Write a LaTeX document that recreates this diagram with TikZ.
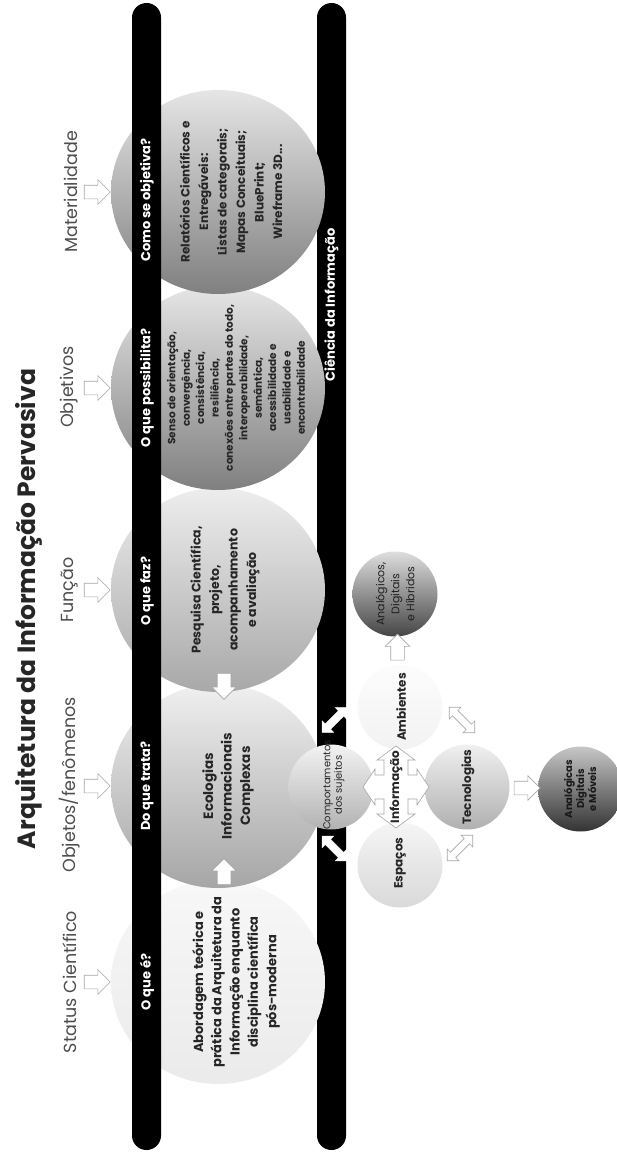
\documentclass[tikz,border=0pt]{standalone}
\usepackage{fontspec}
\setmainfont{Poppins}
\usetikzlibrary{shapes.geometric, shapes.arrows, positioning, calc}
\definecolor{ink}{HTML}{262626}
\definecolor{lblgray}{HTML}{4D4D4D}
\definecolor{arrgray}{HTML}{A6A6A6}

\begin{document}
\begin{tikzpicture}[x=1pt, y=-1pt,
    bigball/.style={ellipse, minimum width=214pt, minimum height=204pt, inner sep=0pt},
    smallball/.style={circle, minimum size=85pt, inner sep=0pt},
    vtxt/.style={rotate=90, align=center, inner sep=0pt, text=ink},
    hdr/.style={vtxt, text=white, font=\bfseries\fontsize{13}{15}\selectfont},
    lbl/.style={vtxt, text=lblgray, font=\fontsize{17.5}{20}\selectfont},
    hollow/.style={single arrow, draw=arrgray, fill=white, line width=0.6pt,
        inner sep=6.5pt, single arrow head extend=5.5pt, minimum height=26pt},
    twoway/.style={double arrow, draw=arrgray, fill=white, line width=0.6pt,
        inner sep=3.5pt, double arrow head extend=4.5pt, minimum height=36pt},
    barway/.style={double arrow, draw=white, fill=white,
        inner sep=3.5pt, double arrow head extend=4.5pt, minimum height=35pt}]
\useasboundingbox (0,0) rectangle (617,1153);

% eixo da ciencia da informacao
\fill[black, rounded corners=14.5pt] (317,3) rectangle (346,1150);

% circulos principais
\node[bigball, top color=white!97!black, bottom color=white!92!black] (abo) at (218,982) {};
\node[bigball, top color=white!94!black, bottom color=white!65!black] (eco) at (218,786) {};
\node[bigball, top color=white!93!black, bottom color=white!66!black] (fun) at (218,590) {};
\node[bigball, top color=white!90!black, bottom color=white!50!black] (obj) at (218,388) {};
\node[bigball, top color=white!90!black, bottom color=white!50!black] (mat) at (218,192) {};

% eixo das perguntas
\fill[black, rounded corners=14.5pt] (132,3) rectangle (161,1150);

\node[hdr] (qabo) at (147,982) {O que é?};
\node[hdr] (qeco) at (147,786) {Do que trata?};
\node[hdr] (qfun) at (147,591) {O que faz?};
\node[hdr] (qobj) at (147,388) {O que possibilita?};
\node[hdr] (qmat) at (147,200) {Como se objetiva?};
\node[hdr] (cinf) at (331.5,305) {Ciência da Informação};

% respostas
\node[vtxt, font=\bfseries\fontsize{13}{18.3}\selectfont] (tabo) at (236,982)
    {Abordagem teórica e\\prática da Arquitetura da\\Informação enquanto\\disciplina científica\\pós-moderna};
\node[vtxt, font=\bfseries\fontsize{13.5}{18.5}\selectfont] (teco) at (228,786)
    {Ecologias\\Informacionais\\Complexas};
\node[vtxt, font=\bfseries\fontsize{12.5}{18.5}\selectfont] (tfun) at (225,590)
    {Pesquisa Científica,\\projeto,\\acompanhamento\\e avaliação};
\node[vtxt, font=\bfseries\fontsize{10.5}{14.4}\selectfont] (tobj) at (236,388)
    {Senso de orientação,\\convergência,\\consistência,\\resiliência,\\conexões entre partes do todo,\\interoperabilidade,\\semântica,\\acessibilidade e\\usabilidade e\\encontrabilidade};
\node[vtxt, font=\bfseries\fontsize{12}{18.5}\selectfont] (tmat) at (231,192)
    {Relatórios Científicos e\\Entregáveis:\\Listas de categorais;\\Mapas Conceituais;\\BluePrint;\\Wireframe 3D...};

% rotulos
\node[vtxt, text=ink, font=\bfseries\fontsize{25}{30}\selectfont] (title) at (28.5,609)
    {Arquitetura da Informação Pervasiva};
\node[lbl] (labo) at (70,982) {Status Científico};
\node[lbl] (leco) at (70,785) {Objetos/fenômenos};
\node[lbl] (lfun) at (70,590) {Função};
\node[lbl] (lobj) at (69,387) {Objetivos};
\node[lbl] (lmat) at (71,192) {Materialidade};
\foreach \b in {abo,eco,fun,obj,mat}
    \node[hollow] (a\b) at ($(\b.west)+(-17,0)$) {};

\node[hollow, rotate=-90] (afe) at ($(fun)!0.5!(eco)+(6,-5)$) {};
\node[hollow, rotate=90] (aae) at ($(abo)!0.5!(eco)+(6,-9)$) {};

% ambientes informacionais
\node[smallball, top color=white!95!black, bottom color=white!70!black] (comp) at (331,787) {};
\node[smallball, top color=white!99!black, bottom color=white!95!black] (amb) at (400,707) {};
\node[smallball, top color=white!96!black, bottom color=white!85!black] (esp) at (400,865) {};
\node[smallball, top color=white!94!black, bottom color=white!69!black] (tec) at (467,787) {};
\node[smallball, top color=white!87!black, bottom color=white!27!black] (hib) at (395,594) {};
\node[smallball, top color=white!78!black, bottom color=white!20!black] (mov) at (580.5,789) {};

\coordinate (info) at (396,787);
\draw[arrgray, fill=white, line width=0.6pt, shift={(info)}]
    (0,-41) -- (19,-27) -- (12,-27) -- (12,-12) -- (21,-12) -- (21,-18) -- (33,0)
    -- (21,18) -- (21,12) -- (12,12) -- (12,27) -- (19,27) -- (0,41)
    -- (-19,27) -- (-12,27) -- (-12,12) -- (-21,12) -- (-21,18) -- (-33,0)
    -- (-21,-18) -- (-21,-12) -- (-12,-12) -- (-12,-27) -- (-19,-27) -- cycle;

\node[vtxt, font=\fontsize{10}{11.5}\selectfont] (tcomp) at (334,785) {Comportamentos\\dos sujeitos};
\node[vtxt, font=\bfseries\fontsize{12}{14}\selectfont] (tinfo) at (info) {Informação};
\node[vtxt, font=\bfseries\fontsize{12}{14}\selectfont] (tamb) at (401,707) {Ambientes};
\node[vtxt, font=\bfseries\fontsize{12}{14}\selectfont] (tesp) at (400,863) {Espaços};
\node[vtxt, font=\bfseries\fontsize{12}{14}\selectfont] (ttec) at (468,787) {Tecnologias};
\node[vtxt, text=black!88, font=\fontsize{11}{15}\selectfont] (thib) at (395,594)
    {Analógicos,\\Digitais\\e Híbridos};
\node[vtxt, text=black!90, font=\bfseries\fontsize{10}{12}\selectfont] (tmov) at (580,789)
    {Analógicas\\Digitais\\e Móveis};

\node[hollow, rotate=90] (aah) at ($(amb.north)!0.5!(hib.south)$) {};
\node[hollow] (atm) at ($(tec.east)!0.5!(mov.west)$) {};
\node[twoway, rotate=-45] (aat) at (462,720) {};
\node[twoway, rotate=45] (aet) at (460,848) {};
\node[barway, rotate=45] (bup) at ($(comp)+(3.5,-67)$) {};
\node[barway, rotate=-45] (bdn) at ($(comp)+(3.5,61.5)$) {};
\end{tikzpicture}
\end{document}
